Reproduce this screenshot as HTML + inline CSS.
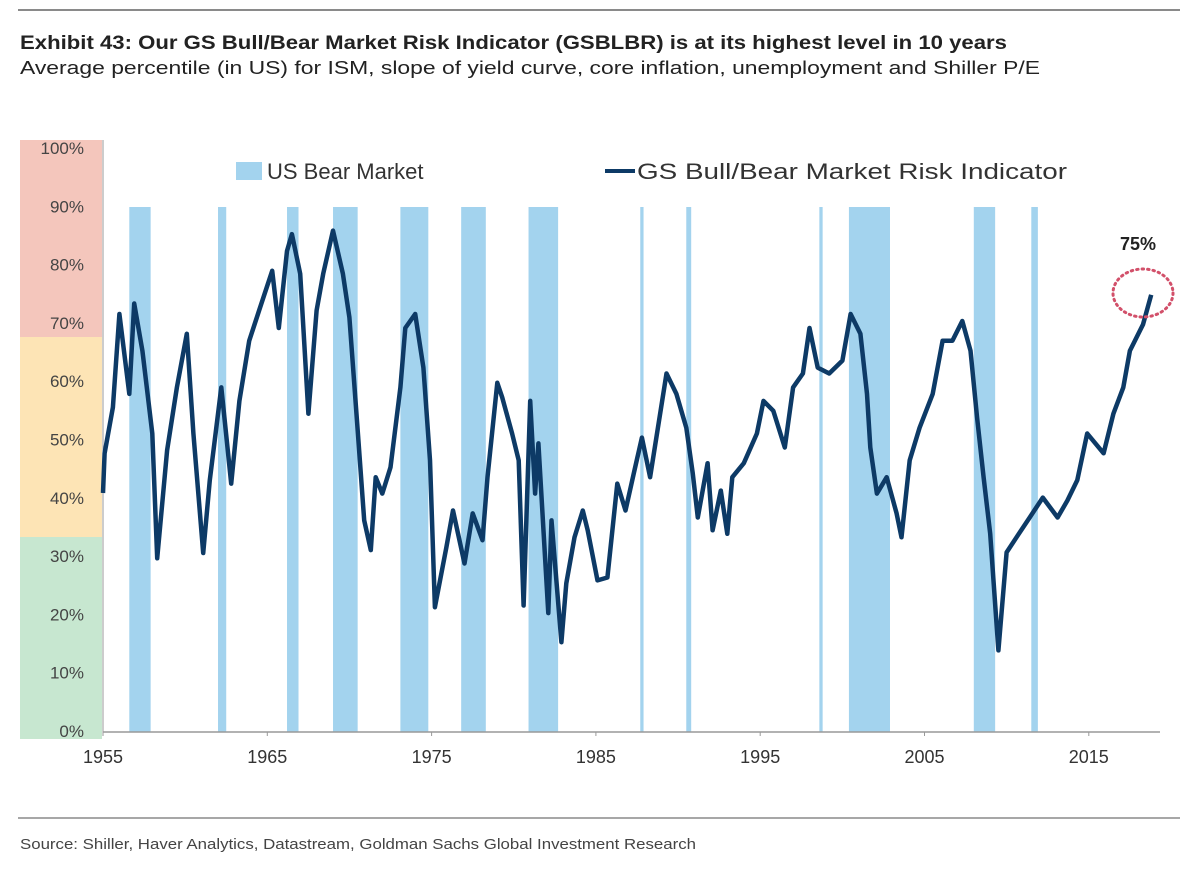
<!DOCTYPE html>
<html><head><meta charset="utf-8"><style>
html,body{margin:0;padding:0;background:#fff;}
svg{display:block;font-family:"Liberation Sans",sans-serif;}
</style></head><body>
<svg id="chart" width="1199" height="870" viewBox="0 0 1199 870">
  <line x1="18" y1="10" x2="1180" y2="10" stroke="#8a8a8a" stroke-width="2"/>
  <text x="20" y="49" font-size="19" font-weight="bold" fill="#222" textLength="987" lengthAdjust="spacingAndGlyphs">Exhibit 43: Our GS Bull/Bear Market Risk Indicator (GSBLBR) is at its highest level in 10 years</text>
  <text x="20" y="74" font-size="18" fill="#222" textLength="1020" lengthAdjust="spacingAndGlyphs">Average percentile (in US) for ISM, slope of yield curve, core inflation, unemployment and Shiller P/E</text>
  <rect x="20" y="140" width="82" height="197" fill="#f4c6bc"/>
  <rect x="20" y="337" width="82" height="200" fill="#fde4b5"/>
  <rect x="20" y="537" width="82" height="202" fill="#c7e7d0"/>
  <g id="bars"></g>
  <g id="yticks"></g>
  <line x1="103" y1="140" x2="103" y2="733" stroke="#999" stroke-width="1"/>
  <line x1="103" y1="732" x2="1160" y2="732" stroke="#999" stroke-width="1.5"/>
  <g id="xticks"></g>
  <path id="series" fill="none" stroke="#0d3a66" stroke-width="4.5" stroke-linejoin="round"/>
  <g>
    <rect x="236" y="162" width="26" height="18" fill="#a3d3ee"/>
    <text x="267" y="179" font-size="22" fill="#333">US Bear Market</text>
    <line x1="605" y1="171" x2="635" y2="171" stroke="#0d3a66" stroke-width="4"/>
    <text x="637" y="179" font-size="22" fill="#333" textLength="430" lengthAdjust="spacingAndGlyphs">GS Bull/Bear Market Risk Indicator</text>
  </g>
  <text x="1138" y="250" font-size="18" font-weight="bold" fill="#222" text-anchor="middle">75%</text>
  <ellipse cx="1143" cy="293" rx="30" ry="24" fill="none" stroke="#d2506a" stroke-width="3" stroke-dasharray="1.5 4" stroke-linecap="round"/>
  <line x1="18" y1="818" x2="1180" y2="818" stroke="#8a8a8a" stroke-width="1.5"/>
  <text x="20" y="849" font-size="15" fill="#444" textLength="676" lengthAdjust="spacingAndGlyphs">Source: Shiller, Haver Analytics, Datastream, Goldman Sachs Global Investment Research</text>
</svg>
<script>
const years = [1955.0,1955.1,1955.6,1956.0,1956.6,1956.9,1957.4,1958.0,1958.3,1958.9,1959.5,1960.1,1960.5,1961.1,1961.5,1962.2,1962.8,1963.3,1963.9,1964.5,1965.3,1965.7,1966.2,1966.5,1967.0,1967.5,1968.0,1968.4,1969.0,1969.6,1970.0,1970.5,1970.9,1971.3,1971.6,1972.0,1972.5,1973.1,1973.4,1974.0,1974.5,1974.9,1975.2,1975.9,1976.3,1977.0,1977.5,1978.1,1978.4,1979.0,1979.3,1979.9,1980.3,1980.6,1981.0,1981.3,1981.5,1982.1,1982.3,1982.9,1983.2,1983.7,1984.2,1984.5,1985.1,1985.7,1986.3,1986.8,1987.3,1987.8,1988.3,1989.3,1989.9,1990.5,1990.9,1991.2,1991.8,1992.1,1992.6,1993.0,1993.3,1994.0,1994.8,1995.2,1995.8,1996.5,1997.0,1997.6,1998.0,1998.5,1999.2,2000.0,2000.5,2001.1,2001.5,2001.7,2002.1,2002.7,2003.3,2003.6,2004.1,2004.7,2005.5,2006.1,2006.7,2007.3,2007.8,2008.2,2008.6,2009.0,2009.5,2010.0,2010.6,2011.4,2012.2,2013.1,2013.7,2014.3,2014.9,2015.9,2016.5,2017.1,2017.5,2018.3,2018.8];
const values = [41,47.8,55.7,71.7,58.0,73.5,65.4,51.2,29.8,48.3,59.1,68.3,51.2,30.7,43.2,59.1,42.6,56.8,67.1,72.3,79.1,69.3,82.5,85.4,78.6,54.6,72.3,78.6,86.0,78.6,71.1,51.7,36.3,31.2,43.7,40.9,45.4,59.1,69.3,71.7,62.5,46.6,21.4,31.7,38.0,28.9,37.5,32.9,43.7,59.9,57.4,51.2,46.6,21.7,56.8,40.9,49.5,20.4,36.3,15.4,25.5,33.4,38.0,34.6,26.0,26.5,42.6,38.0,44.3,50.5,43.7,61.5,58.0,52.2,44.3,36.8,46.1,34.6,41.4,34.0,43.7,46.1,51.2,56.8,55.1,48.8,59.1,61.5,69.3,62.5,61.5,63.7,71.7,68.3,58.0,48.8,40.9,43.7,37.5,33.4,46.6,52.2,58.0,67.1,67.1,70.5,65.4,53.9,43.7,34.0,14.0,30.8,33.4,36.8,40.2,36.8,39.7,43.2,51.2,47.8,54.6,59.1,65.4,69.9,75];
const bearStarts = [1956.6,1962.0,1966.2,1969.0,1973.1,1976.8,1980.9,1987.7,1990.5,1998.6,2000.4,2008.0,2011.5];
const bearEnds   = [1957.9,1962.5,1966.9,1970.5,1974.8,1978.3,1982.7,1987.9,1990.8,1998.8,2002.9,2009.3,2011.9];
const yTickLabels = [0,10,20,30,40,50,60,70,80,90,100];
const xTickLabels = [1955,1965,1975,1985,1995,2005,2015];

const NS = "http://www.w3.org/2000/svg";
function xs(yr){ return 103 + (yr - 1955) * 16.43; }
function ys(v){ return 732 - v * 5.83; }

const barsG = document.getElementById('bars');
for (let i = 0; i < bearStarts.length; i++) {
  const r = document.createElementNS(NS, 'rect');
  r.setAttribute('x', xs(bearStarts[i]));
  r.setAttribute('y', 207);
  r.setAttribute('width', Math.max(2, xs(bearEnds[i]) - xs(bearStarts[i])));
  r.setAttribute('height', 732 - 207);
  r.setAttribute('fill', '#a3d3ee');
  
  
  barsG.appendChild(r);
}

const yG = document.getElementById('yticks');
yTickLabels.forEach(v => {
  const t = document.createElementNS(NS, 'text');
  t.setAttribute('x', 84);
  t.setAttribute('y', ys(v) + 5);
  t.setAttribute('text-anchor', 'end');
  t.setAttribute('font-size', '17');
  t.setAttribute('fill', '#444');
  t.textContent = v + '%';
  
  
  yG.appendChild(t);
});

const xG = document.getElementById('xticks');
xTickLabels.forEach(yr => {
  const tk = document.createElementNS(NS, 'line');
  tk.setAttribute('x1', xs(yr)); tk.setAttribute('x2', xs(yr));
  tk.setAttribute('y1', 732); tk.setAttribute('y2', 736);
  tk.setAttribute('stroke', '#999');
  
  
  xG.appendChild(tk);
  const t = document.createElementNS(NS, 'text');
  t.setAttribute('x', xs(yr));
  t.setAttribute('y', 763);
  t.setAttribute('text-anchor', 'middle');
  t.setAttribute('font-size', '18');
  t.setAttribute('fill', '#333');
  t.textContent = yr;
  
  
  xG.appendChild(t);
});

let d = '';
for (let i = 0; i < years.length; i++) {
  d += (i ? 'L' : 'M') + xs(years[i]).toFixed(1) + ',' + ys(values[i]).toFixed(1);
}
document.getElementById('series').setAttribute('d', d);
</script>
</body></html>
